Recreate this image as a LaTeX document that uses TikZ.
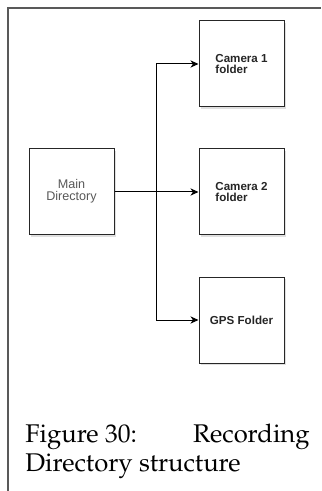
\documentclass[tikz,border=0pt]{standalone}
\usepackage[T1]{fontenc}
\usepackage{fontspec}
\newfontfamily\boxfont{Liberation Sans}
\usetikzlibrary{arrows.meta,shadows}
\newcommand{\capfont}{\fontencoding{T1}\fontfamily{ppl}\fontsize{12.8}{14}\selectfont}
\begin{document}
\begin{tikzpicture}[x=0.5pt,y=-0.5pt,
	folder/.style={rectangle,draw=black!85,line width=0.5pt,fill=white,minimum width=42.5pt,minimum height=43pt,
		inner sep=0pt,text=black!85,font=\boxfont\fontsize{5.8}{6.4}\selectfont,
		drop shadow={shadow xshift=1pt,shadow yshift=-1pt,opacity=0.25}},
	link/.style={line width=0.5pt,-{Stealth[length=4pt,width=3.6pt,inset=1.2pt]}},
	caption/.style={inner sep=0pt,font=\capfont}]
			\useasboundingbox (0,0) rectangle (321,491);
			%frame
			\draw[black!65,line width=0.8pt] (8,491) -- (8,8) -- (321,8);

			%left node
			\node[folder,text=black!65,font=\boxfont\fontsize{6.3}{6.8}\selectfont] (main) at (71.5,192) {\begin{tabular}{@{}c@{}}Main\\[-1pt]Directory\end{tabular}};

			%right nodes
			\node[folder,align=left] (cam1) at (241.5,64) {\textbf{Camera 1}\\[-0.5pt]\textbf{folder}};
			\node[folder,align=left] (cam2) at (241.5,192) {\textbf{Camera 2}\\[-0.5pt]\textbf{folder}};
			\node[folder] (gps) at (241.5,320) {\textbf{GPS Folder}};

			%edges
			\coordinate (fork) at (156,192);
			\draw[link] (main.east) -- (cam2.west);
			\draw[link] (fork) |- (cam1.west);
			\draw[link] (fork) |- (gps.west);

			%caption
			\node[caption,anchor=base west] (capA) at (25,442) {Figure 30:};
			\node[caption,anchor=base east] (capB) at (310,442) {Recording};
			\node[caption,anchor=base west] (capC) at (25,471) {Directory structure};
		\end{tikzpicture}
\end{document}
